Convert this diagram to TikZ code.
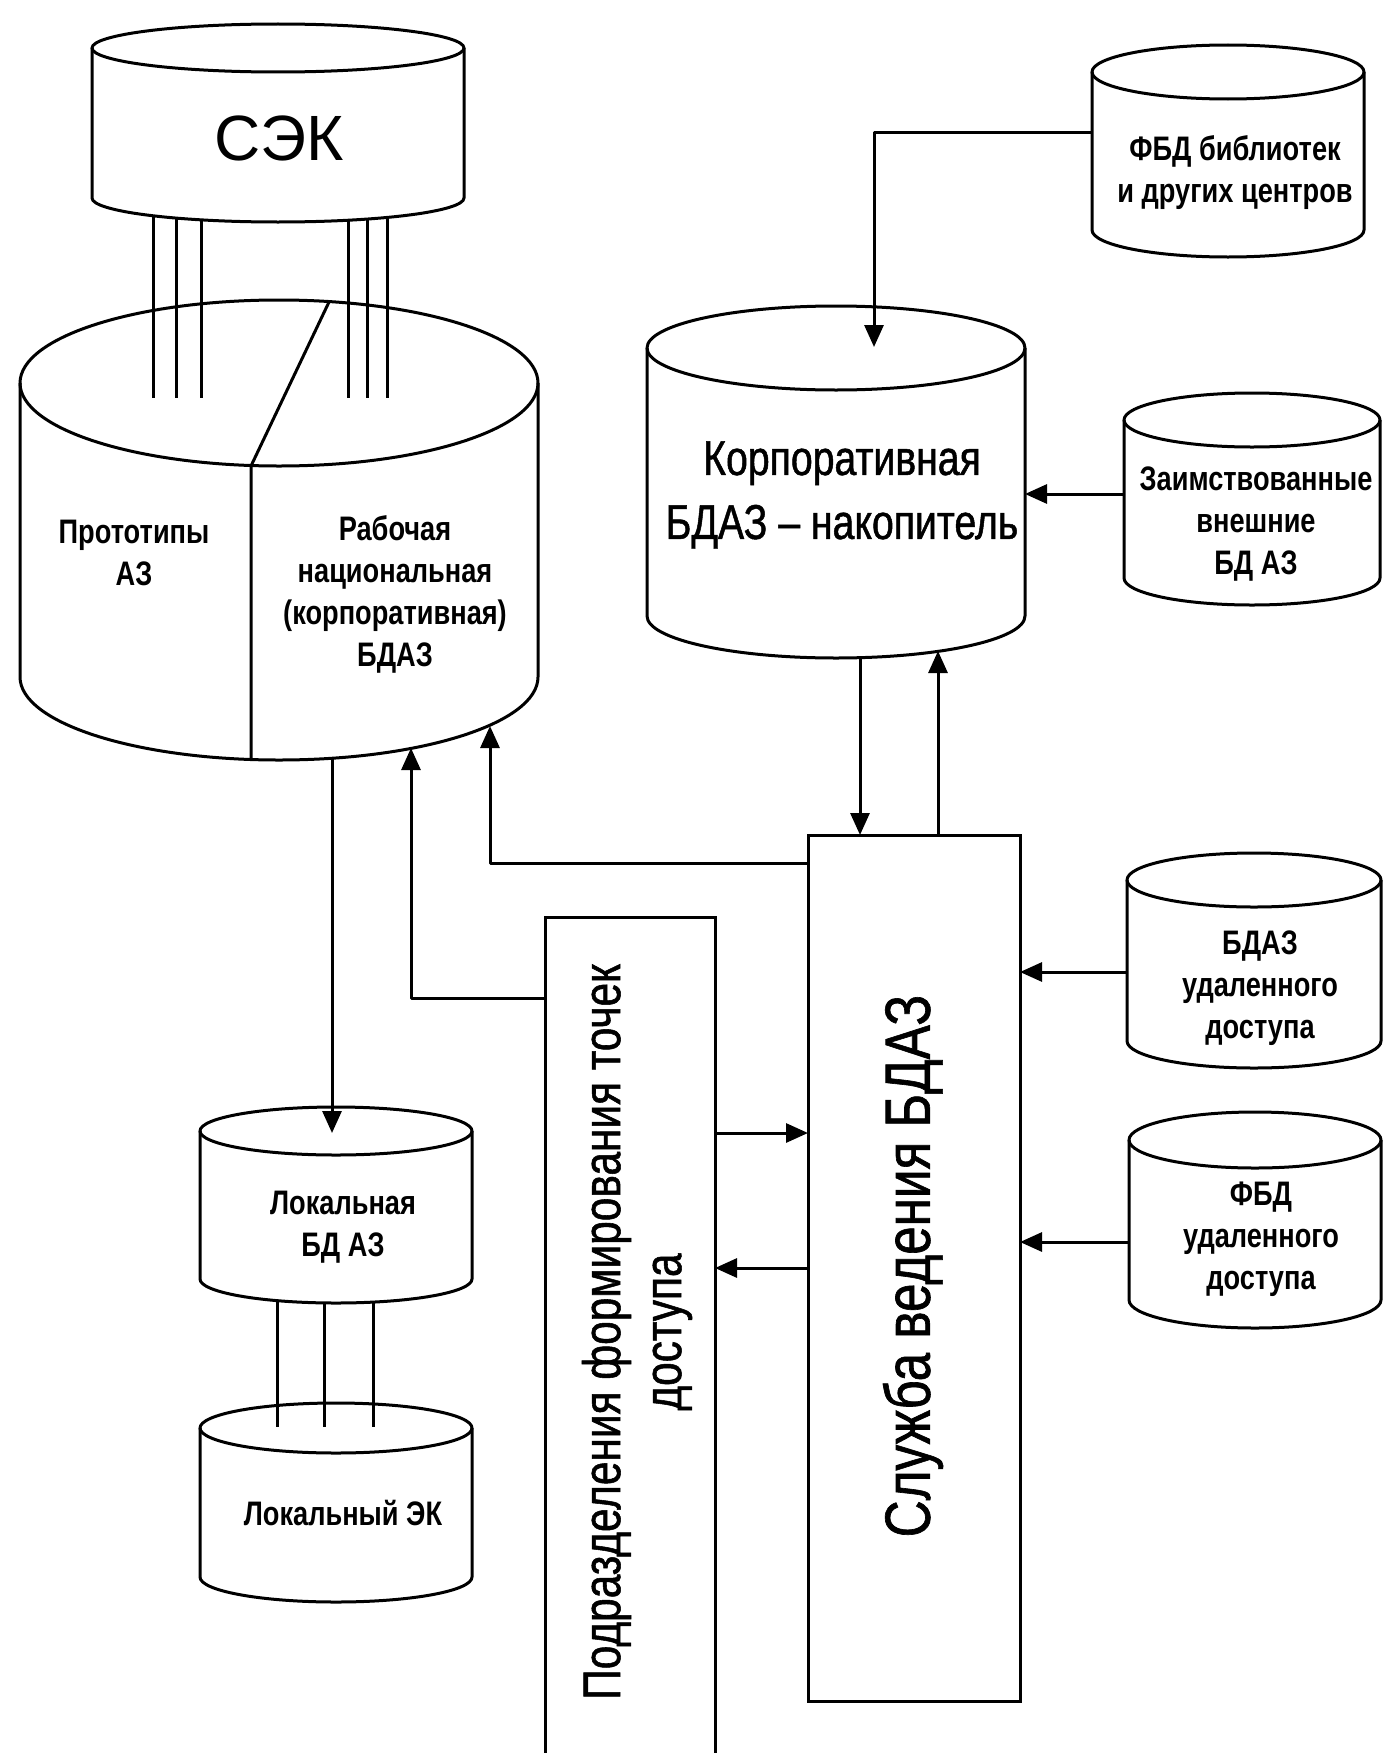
\documentclass[tikz,border=0pt]{standalone}
\usepackage{fontspec}
\setmainfont{Liberation Sans}
\newfontfamily\narrowfont{Liberation Sans}[FakeStretch=0.8]
\newfontfamily\narrowmed{Liberation Sans}[FakeStretch=0.8, FakeBold=1]
\usetikzlibrary{arrows.meta}

\begin{document}
\begin{tikzpicture}[x=1pt, y=-1pt,
    line/.style={line width=3pt, line join=round},
    arr/.style={line, -{Triangle[length=22pt, width=19pt]}},
    cylbody/.style={inner sep=0pt, outer sep=0pt},
    box/.style={draw, line width=3pt, inner sep=0pt, outer sep=0pt},
    small/.style={font=\narrowfont\bfseries\fontsize{34}{42}\selectfont, align=center},
    big/.style={font=\narrowmed\fontsize{49}{64}\selectfont, align=center}]
    % one database: name, centre x, top y, bottom y, x radius, y radius
    \def\dbcyl#1#2#3#4#5#6{%
        \node[cylbody, minimum width={2*#5}, minimum height={#4-#3}] (#1) at (#2, {(#3+#4)/2}) {};
        \draw[line] (#1.north) ellipse [x radius=#5pt, y radius=#6pt];
        \draw[line] (#1.north west) -- (#1.south west)
            arc [start angle=180, end angle=360, x radius=#5pt, y radius=#6pt] -- (#1.north east);
    }
    \fill[white] (0,0) rectangle (1384,1753);
    \useasboundingbox (0,0) rectangle (1384,1753);

    % Draw the databases
    \dbcyl{sek}{278}{48}{198}{186}{24}
    \dbcyl{bdaz}{279}{383}{677}{259}{83}
    \dbcyl{fbdlib}{1228}{72}{230}{136}{27}
    \dbcyl{korp}{836}{348}{616}{189}{42}
    \dbcyl{zaim}{1252}{420}{578}{128}{27}
    \dbcyl{bdazud}{1254}{880}{1041}{127}{27}
    \dbcyl{fbdud}{1255}{1140}{1300}{126}{28}
    \dbcyl{lokbd}{336}{1131}{1279}{136}{24}
    \dbcyl{lokek}{336}{1428}{1577}{136}{25}

    % Split of the working base
    \draw[line] (329,302) -- (251,466) -- (251,759);

    % Draw the two services
    \node[box, minimum width=212, minimum height=866] (sluzh) at (914,1268) {};
    \node[box, minimum width=170, minimum height=843] (podr) at (630,1338.5) {};

    % Bundles of links
    \foreach \lx in {153,176,201,348,367,387}
        \draw[line] (\lx, {198+24*sqrt(1-((\lx-278)/186)*((\lx-278)/186))}) -- (\lx,398);
    \foreach \lx in {277,324,373}
        \draw[line] (\lx, {1279+24*sqrt(1-((\lx-336)/136)*((\lx-336)/136))}) -- (\lx,1427);

    % Labels
    \node[font=\fontsize{64}{70}\selectfont] (sek-txt) at (279,138) {СЭК};
    \node[small] (prot-txt) at (134,553) {Прототипы\\АЗ};
    \node[small] (bdaz-txt) at (395,594) {Рабочая\\национальная\\(корпоративная)\\БДАЗ};
    \node[small] (fbdlib-txt) at (1235,173) {ФБД библиотек\\и других центров};
    \node[big] (korp-txt) at (842,495) {Корпоративная\\БДАЗ – накопитель};
    \node[small] (zaim-txt) at (1256,524) {Заимствованные\\внешние\\БД АЗ};
    \node[small] (bdazud-txt) at (1260,988) {БДАЗ\\удаленного\\доступа};
    \node[small] (fbdud-txt) at (1261,1239) {ФБД\\удаленного\\доступа};
    \node[small] (lokbd-txt) at (343,1227) {Локальная\\БД АЗ};
    \node[small] (lokek-txt) at (343,1513) {Локальный ЭК};
    \node[font=\narrowmed\fontsize{53}{61}\selectfont, align=center, rotate=90] (podr-txt) at (637,1332) {Подразделения формирования точек\\доступа};
    \node[font=\narrowmed\fontsize{64}{70}\selectfont, rotate=90] (sluzh-txt) at (913,1266) {Служба ведения БДАЗ};

    % Arrow ends on the databases
    \coordinate (korp-top) at (874,347);
    \coordinate (korp-b1) at (860,658);
    \coordinate (korp-b2) at (938,651);
    \coordinate (bdaz-b0) at (332,758);
    \coordinate (bdaz-b1) at (411,748);
    \coordinate (bdaz-b2) at (490,726);
    \coordinate (lokbd-top) at (332,1133);

    % Draw the arrows
    \draw[arr] (fbdlib.west |- 0,132) -| (korp-top);
    \draw[arr] (zaim.west |- 0,494) -- (korp.east |- 0,494);
    \draw[arr] (korp-b1) -- (sluzh.north -| 860,0);
    \draw[arr] (sluzh.north -| 938,0) -- (korp-b2);
    \draw[arr] (sluzh.west |- 0,863) -| (bdaz-b2);
    \draw[arr] (podr.west |- 0,998) -| (bdaz-b1);
    \draw[arr] (bdaz-b0) -- (lokbd-top);
    \draw[arr] (podr.east |- 0,1133) -- (sluzh.west |- 0,1133);
    \draw[arr] (sluzh.west |- 0,1268) -- (podr.east |- 0,1268);
    \draw[arr] (bdazud.west |- 0,972) -- (sluzh.east |- 0,972);
    \draw[arr] (fbdud.west |- 0,1242) -- (sluzh.east |- 0,1242);
\end{tikzpicture}
\end{document}
